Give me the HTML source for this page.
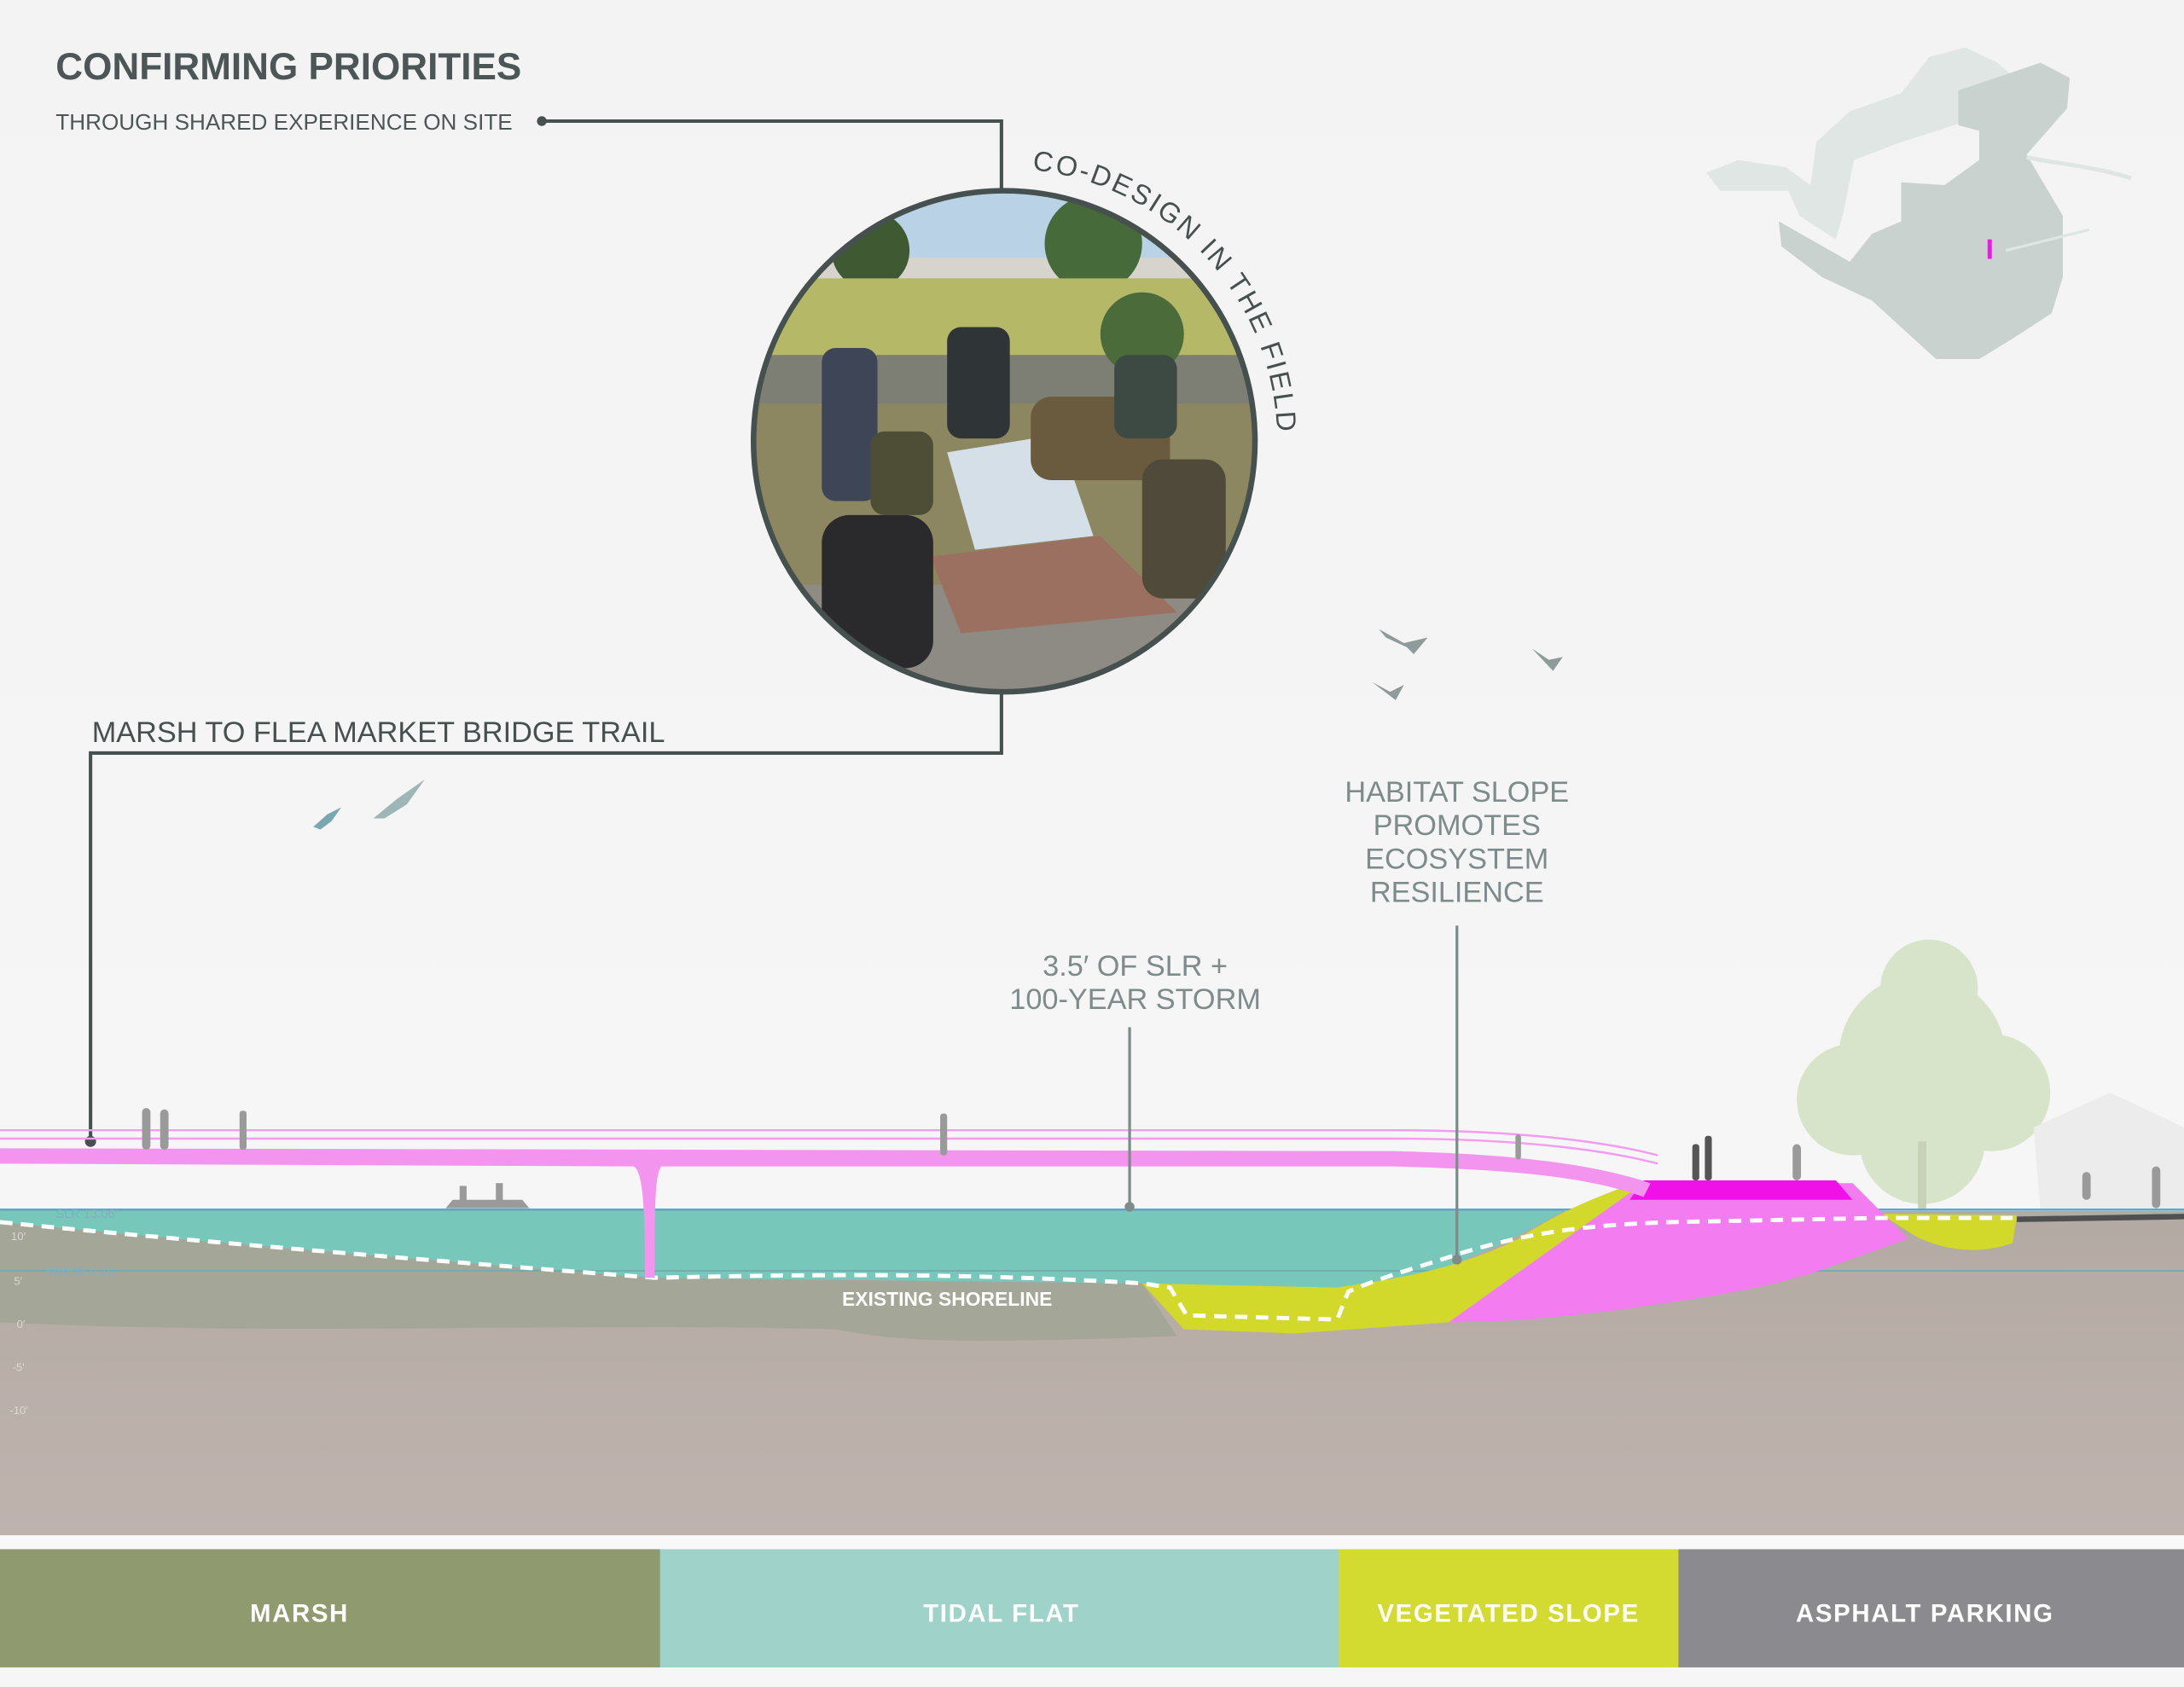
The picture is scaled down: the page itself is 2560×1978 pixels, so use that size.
<!DOCTYPE html>
<html><head><meta charset="utf-8"><style>
html,body{margin:0;padding:0;background:#f4f4f4;}
svg{display:block;}
text{font-family:"Liberation Sans",sans-serif;}
</style></head><body>
<svg width="2560" height="1978" viewBox="0 0 1568 1212" preserveAspectRatio="none" xmlns="http://www.w3.org/2000/svg">
<defs>
<linearGradient id="sky" x1="0" y1="0" x2="0" y2="1"><stop offset="0" stop-color="#f3f3f3"/><stop offset="1" stop-color="#f7f7f7"/></linearGradient>
<linearGradient id="gr" x1="0" y1="0" x2="0" y2="1"><stop offset="0" stop-color="#b3aaa3"/><stop offset="1" stop-color="#bfb3ae"/></linearGradient>
<clipPath id="cc"><circle cx="721" cy="317" r="180"/></clipPath>
<path id="arc" d="M 721 121 A 196 196 0 0 1 917 317" fill="none"/>
</defs>
<rect width="1568" height="1212" fill="url(#sky)"/>

<!-- map -->
<path d="M1225 124 L1248 115 L1282 120 L1300 133 L1304 102 L1328 80 L1365 67 L1385 41 L1411 34 L1434 45 L1452 61 L1406 65 L1406 89 L1365 102 L1331 115 L1323 155 L1318 172 L1292 155 L1284 137 L1253 137 L1235 137 Z" fill="#e0e6e3"/>
<path d="M1406 65 L1465 45 L1486 56 L1484 78 L1455 111 L1481 155 L1481 199 L1473 225 L1447 242 L1421 258 L1390 258 L1344 216 L1308 199 L1279 177 L1277 159 L1328 188 L1344 168 L1365 159 L1365 131 L1396 133 L1421 115 L1421 94 L1406 90 Z" fill="#c9d2cf"/>
<path d="M1455 113 C1480 118 1505 120 1530 128" fill="none" stroke="#dfe5e2" stroke-width="3"/>
<path d="M1440 180 C1460 175 1480 170 1500 165" fill="none" stroke="#dfe5e2" stroke-width="2"/>
<rect x="1427" y="172" width="3" height="14" fill="#e020e0"/>

<!-- title -->
<text x="40" y="57" font-size="27" font-weight="bold" fill="#4d5656">CONFIRMING PRIORITIES</text>
<text x="40" y="93" font-size="16" fill="#4d5656">THROUGH SHARED EXPERIENCE ON SITE</text>
<circle cx="389" cy="87" r="3.5" fill="#45504f"/>
<polyline points="389,87 719,87 719,140" fill="none" stroke="#45504f" stroke-width="2.5"/>
<polyline points="719,495 719,541 65,541 65,820" fill="none" stroke="#45504f" stroke-width="2.5"/>
<circle cx="65" cy="820" r="4" fill="#45504f"/>
<text x="66" y="533" font-size="21" fill="#45504f">MARSH TO FLEA MARKET BRIDGE TRAIL</text>

<!-- photo -->
<g clip-path="url(#cc)">
<rect x="530" y="130" width="380" height="380" fill="#8d8a6e"/>
<rect x="530" y="130" width="380" height="70" fill="#b9d2e6"/>
<rect x="530" y="185" width="380" height="20" fill="#d6d4cc"/>
<circle cx="625" cy="180" r="28" fill="#3f5a32"/>
<circle cx="785" cy="175" r="35" fill="#476a3a"/>
<rect x="530" y="200" width="380" height="60" fill="#b5b866"/>
<rect x="530" y="255" width="380" height="35" fill="#7d7f74"/>
<rect x="530" y="290" width="380" height="220" fill="#8c8760"/>
<rect x="530" y="420" width="380" height="90" fill="#8e8a84"/>
<circle cx="820" cy="240" r="30" fill="#4c6b3a"/>
<polygon points="680,325 760,312 785,385 700,395" fill="#d5dfe8"/>
<polygon points="668,400 790,385 845,440 690,455" fill="#9b7060"/>
<rect x="590" y="250" width="40" height="110" rx="10" fill="#3d4556"/>
<rect x="680" y="235" width="45" height="80" rx="10" fill="#2f3436"/>
<rect x="740" y="285" width="100" height="60" rx="15" fill="#6a5a3e"/>
<rect x="820" y="330" width="60" height="100" rx="15" fill="#504a3a"/>
<rect x="590" y="370" width="80" height="110" rx="20" fill="#2a2a2c"/>
<rect x="625" y="310" width="45" height="60" rx="10" fill="#4e4e36"/>
<rect x="800" y="255" width="45" height="60" rx="10" fill="#3d4a44"/>
</g>
<circle cx="721" cy="317" r="180" fill="none" stroke="#45504f" stroke-width="4"/>
<text font-size="20" fill="#45504f" letter-spacing="1"><textPath href="#arc" startOffset="20" textLength="282">CO-DESIGN IN THE FIELD</textPath></text>

<!-- birds -->
<g fill="#8f9a9a">
<path d="M990 452 L1008 462 L1025 458 L1015 470 L1010 465 L995 458 Z"/>
<path d="M985 490 L998 497 L1008 492 L1002 503 Z"/>
<path d="M1100 466 L1112 474 L1122 472 L1115 482 Z"/>
<path d="M268 588 L285 574 L305 560 L292 578 L276 588 Z" fill="#9fb6b6"/>
<path d="M225 594 L235 585 L245 580 L238 590 L230 596 Z" fill="#7aa7b0"/>
</g>

<!-- labels -->
<g font-size="21" fill="#7d8b8b" text-anchor="middle">
<text x="1046" y="576">HABITAT SLOPE</text>
<text x="1046" y="600">PROMOTES</text>
<text x="1046" y="624">ECOSYSTEM</text>
<text x="1046" y="648">RESILIENCE</text>
<text x="815" y="701">3.5′ OF SLR +</text>
<text x="815" y="725">100-YEAR STORM</text>
</g>

<!-- tree -->
<g fill="#d8e4c9">
<circle cx="1380" cy="760" r="60"/><circle cx="1330" cy="790" r="40"/><circle cx="1430" cy="785" r="42"/><circle cx="1385" cy="710" r="35"/><circle cx="1380" cy="820" r="45"/>
</g>
<rect x="1377" y="820" width="6" height="50" fill="#c7d1b6"/>
<polygon points="1460,810 1515,785 1568,810 1568,870 1465,870" fill="#ececec"/>

<!-- ground -->
<rect x="0" y="870" width="1568" height="233" fill="url(#gr)"/>
<path d="M0 878 C120 890 300 905 470 918 L820 922 L845 960 C700 965 650 965 600 955 C400 950 200 960 0 950 Z" fill="#a4a697"/>
<!-- water -->
<path d="M0 869 L1125 869 L1080 893 C1050 905 1030 915 1000 925 L900 925 L820 922 L470 918 C300 905 120 890 0 878 Z" fill="#77c7bb"/>
<line x1="0" y1="869" x2="1568" y2="869" stroke="#5aa6d0" stroke-width="1.5"/>
<line x1="0" y1="913" x2="1568" y2="913" stroke="#6fa9ad" stroke-width="1"/>
<g fill="#7fb0c0" font-size="9"><text x="40" y="875">SLR 13.06′</text><text x="33" y="916">MHHW 6.16′</text></g>
<g fill="#dcd8d4" font-size="8"><text x="8" y="891">10′</text><text x="10" y="923">5′</text><text x="12" y="954">0′</text><text x="9" y="985">-5′</text><text x="7" y="1016">-10′</text></g>
<!-- yellow -->
<path d="M820 922 L850 955 L930 958 L1040 950 L1170 860 L1180 848 C1150 858 1120 870 1090 890 C1040 915 990 920 960 925 Z" fill="#d2d92a"/>
<path d="M1350 872 L1448 873 L1445 893 C1420 902 1395 898 1375 888 Z" fill="#d2d92a"/>
<!-- pink -->
<path d="M1040 950 L1180 850 L1330 850 L1352 872 L1370 890 L1300 915 C1250 930 1200 935 1170 940 C1110 948 1070 950 1040 950 Z" fill="#f37df0"/>
<polygon points="1170,862 1180,848 1318,848 1330,862" fill="#f010e8"/>
<!-- asphalt -->
<line x1="1448" y1="876" x2="1568" y2="874" stroke="#505050" stroke-width="4"/>
<!-- dashed shoreline -->
<path d="M0 878 C120 890 300 905 470 918 C600 915 700 915 820 922 L840 925 L852 945 L960 948 L968 928 C990 918 1020 910 1050 900 C1100 885 1140 880 1200 878 L1350 875 L1445 875" fill="none" stroke="#fff" stroke-width="3" stroke-dasharray="9 6"/>
<text x="680" y="938" font-size="14" font-weight="bold" fill="#fff" text-anchor="middle">EXISTING SHORELINE</text>

<!-- bridge -->
<path d="M0 812 L1000 812 C1100 812 1160 822 1190 830" fill="none" stroke="#f39cf0" stroke-width="1.5"/>
<path d="M0 818 L1000 818 C1100 818 1160 828 1190 836" fill="none" stroke="#f39cf0" stroke-width="1.5"/>
<path d="M0 825 L1000 827 C1080 829 1140 835 1185 850 L1180 860 C1140 845 1080 840 1000 838 L475 838 C470 842 470 870 470 918 L463 918 C463 870 462 842 455 838 L0 836 Z" fill="#f394ef"/>
<!-- callout lines -->
<line x1="811" y1="738" x2="811" y2="867" stroke="#7d8b8b" stroke-width="2"/>
<circle cx="811" cy="867" r="3.5" fill="#7d8b8b"/>
<line x1="1046" y1="665" x2="1046" y2="905" stroke="#7d8b8b" stroke-width="2"/>
<circle cx="1046" cy="905" r="3.5" fill="#7d8b8b"/>

<!-- people -->
<g fill="#9a9a9a">
<rect x="102" y="796" width="6" height="30" rx="3"/><rect x="115" y="797" width="6" height="29" rx="3"/>
<rect x="172" y="798" width="5" height="28" rx="2"/><rect x="675" y="800" width="5" height="30" rx="2"/>
<rect x="1088" y="815" width="4" height="18" rx="2"/>
<rect x="1215" y="822" width="5" height="26" rx="2" fill="#555"/><rect x="1224" y="816" width="5" height="32" rx="2" fill="#555"/>
<rect x="1287" y="822" width="6" height="26" rx="3"/>
<rect x="1495" y="842" width="6" height="20" rx="3"/><rect x="1545" y="838" width="6" height="30" rx="3"/>
<path d="M320 868 L380 868 L375 862 L325 862 Z"/><rect x="330" y="852" width="5" height="12"/><rect x="356" y="850" width="5" height="14"/>
</g>

<!-- legend -->
<rect x="0" y="1103" width="1568" height="10" fill="#f8f8f8"/>
<rect x="0" y="1113" width="474" height="85" fill="#8f9a6e"/>
<rect x="474" y="1113" width="487" height="85" fill="#9fd2c9"/>
<rect x="961" y="1113" width="244" height="85" fill="#d3da30"/>
<rect x="1205" y="1113" width="363" height="85" fill="#8b8a8e"/>
<rect x="0" y="1198" width="1568" height="14" fill="#f6f6f6"/>
<g font-size="18" font-weight="bold" fill="#fff" text-anchor="middle" letter-spacing="1">
<text x="215" y="1165">MARSH</text>
<text x="719" y="1165">TIDAL FLAT</text>
<text x="1083" y="1165">VEGETATED SLOPE</text>
<text x="1382" y="1165">ASPHALT PARKING</text>
</g>
</svg>
</body></html>
